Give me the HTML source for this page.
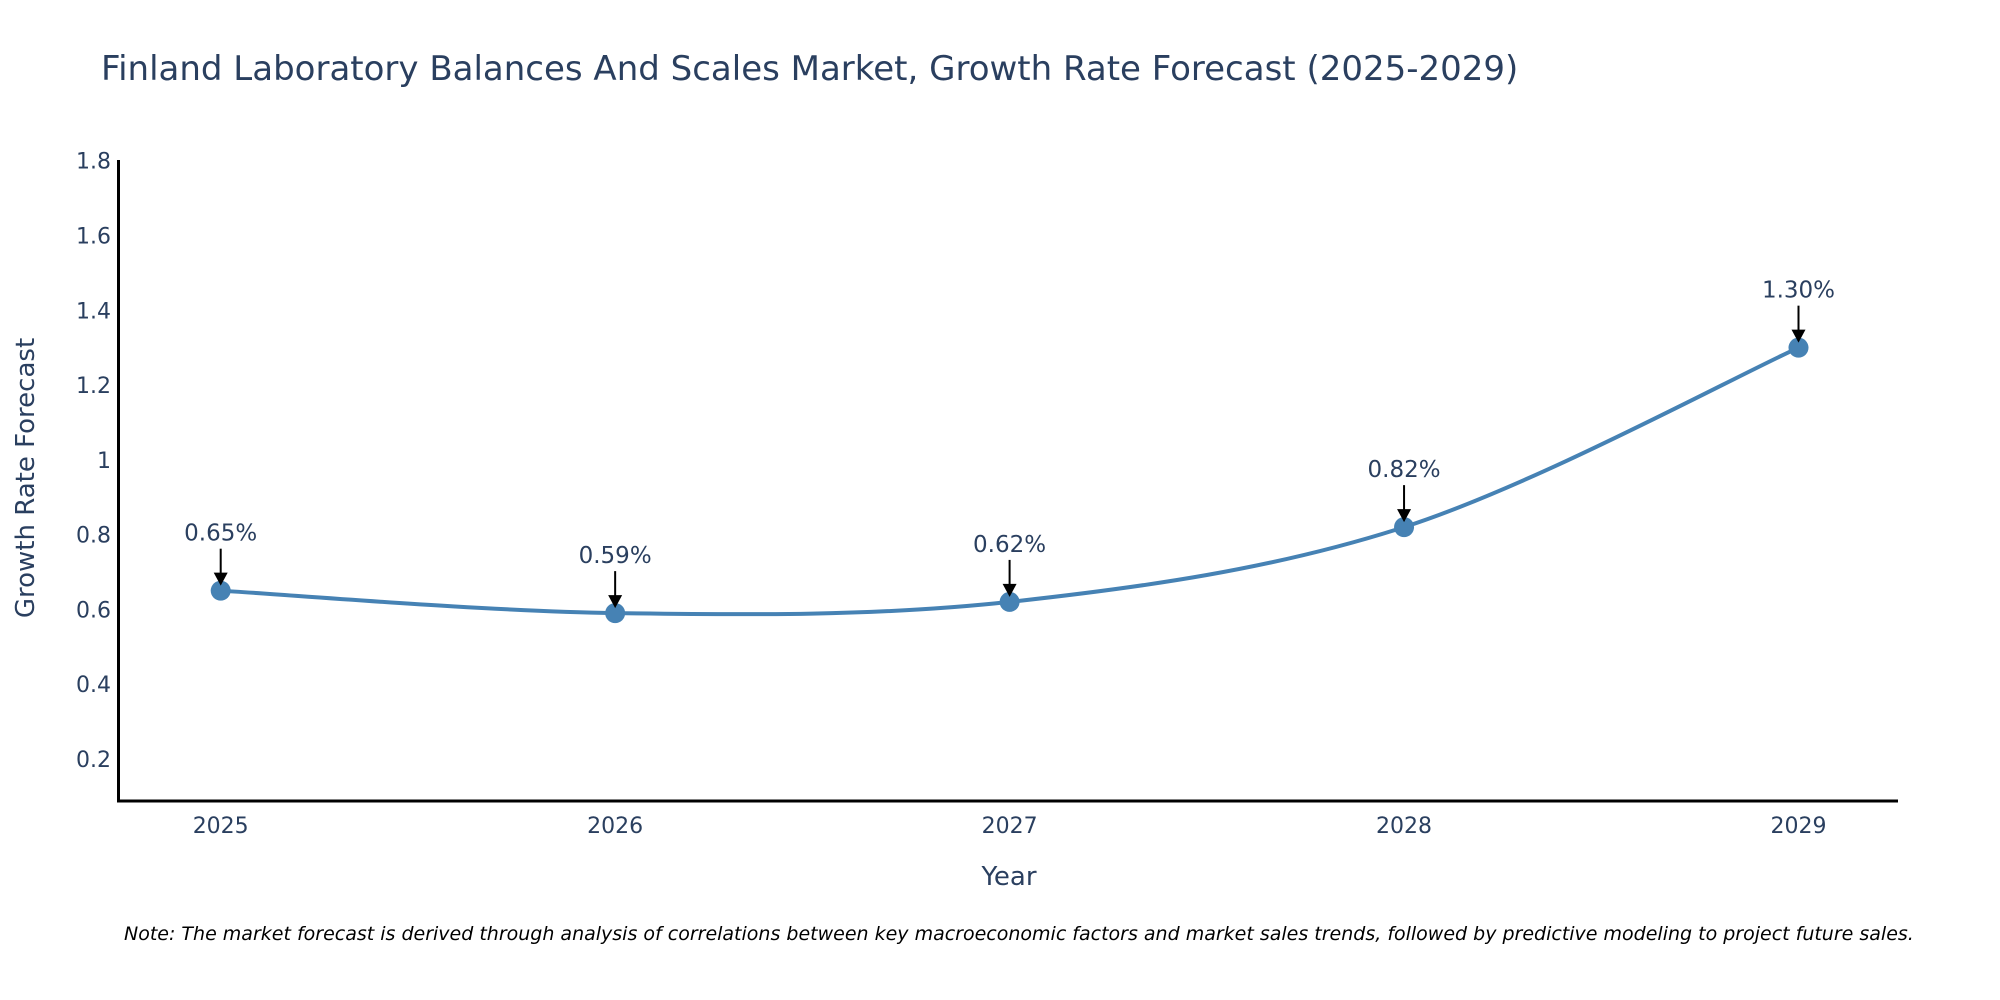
<!DOCTYPE html>
<html><head><meta charset="utf-8"><style>
body{margin:0;background:#fff;}
svg{display:block;font-family:"DejaVu Sans","Liberation Sans",sans-serif;}
</style></head><body>
<svg id="chart" width="2000" height="1000" viewBox="0 0 2000 1000">
<text x="101" y="80" font-size="34" fill="#2a3f5f">Finland Laboratory Balances And Scales Market, Growth Rate Forecast (2025-2029)</text>
<g id="yticks"></g>
<g id="xticks"></g>
<line x1="118.5" y1="160" x2="118.5" y2="802" stroke="#000" stroke-width="3"/>
<line x1="117" y1="801" x2="1898" y2="801" stroke="#000" stroke-width="3"/>
<g id="series"></g>
<g id="annots"></g>
<text x="1009" y="885" font-size="26" fill="#2a3f5f" text-anchor="middle">Year</text>
<text transform="translate(34,478) rotate(-90)" font-size="26" fill="#2a3f5f" text-anchor="middle">Growth Rate Forecast</text>
<text x="124" y="940" font-size="19" font-style="italic" fill="#000">Note: The market forecast is derived through analysis of correlations between key macroeconomic factors and market sales trends, followed by predictive modeling to project future sales.</text>
</svg>
<script>
const categories = ["2025","2026","2027","2028","2029"];
const values = [0.65, 0.59, 0.62, 0.82, 1.30];
const valueLabels = ["0.65%","0.59%","0.62%","0.82%","1.30%"];
const yTicks = [0.2,0.4,0.6,0.8,1,1.2,1.4,1.6,1.8];
const yTickLabels = ["0.2","0.4","0.6","0.8","1","1.2","1.4","1.6","1.8"];
const NS="http://www.w3.org/2000/svg";
const X0=220.7, X1=1798.5, Y_TOP=160.7, YMAX=1.8, PXU=373.9;
function xs(i){return X0+i*(X1-X0)/(categories.length-1);}
function ys(v){return Y_TOP+(YMAX-v)*PXU;}
function mk(tag,attrs,parent){const e=document.createElementNS(NS,tag);for(const k in attrs)e.setAttribute(k,attrs[k]);parent.appendChild(e);return e;}
const yt=document.getElementById('yticks');
yTicks.forEach((v,i)=>{const t=mk('text',{x:111,y:ys(v)+8,'font-size':22,fill:'#2a3f5f','text-anchor':'end'},yt);


t.textContent=yTickLabels[i];});
const xt=document.getElementById('xticks');
categories.forEach((c,i)=>{const t=mk('text',{x:xs(i),y:833,'font-size':22,fill:'#2a3f5f','text-anchor':'middle'},xt);


t.textContent=c;});
const pts=values.map((v,i)=>[xs(i),ys(v)]);
let d=`M${pts[0][0]},${pts[0][1]}`;const s=0.5/3*2;
for(let i=0;i<pts.length-1;i++){const p0=pts[Math.max(0,i-1)],p1=pts[i],p2=pts[i+1],p3=pts[Math.min(pts.length-1,i+2)];
const c1=[p1[0]+(p2[0]-p0[0])*s/2,p1[1]+(p2[1]-p0[1])*s/2],c2=[p2[0]-(p3[0]-p1[0])*s/2,p2[1]-(p3[1]-p1[1])*s/2];
d+=` C${c1[0]},${c1[1]} ${c2[0]},${c2[1]} ${p2[0]},${p2[1]}`;}
const sg=document.getElementById('series');
const line=mk('path',{d:d,fill:'none',stroke:'#4682b4','stroke-width':4},sg);


pts.forEach((p,i)=>{const c=mk('circle',{cx:p[0],cy:p[1],r:10,fill:'#4682b4'},sg);

});
const ag=document.getElementById('annots');
pts.forEach((p,i)=>{
const l=mk('line',{x1:p[0],y1:p[1]-42,x2:p[0],y2:p[1]-16,stroke:'#000','stroke-width':2},ag);


const h=mk('polygon',{points:`${p[0]-7},${p[1]-18} ${p[0]+7},${p[1]-18} ${p[0]},${p[1]-5}`,fill:'#000'},ag);


const t=mk('text',{x:p[0],y:p[1]-50,'font-size':23,fill:'#2a3f5f','text-anchor':'middle'},ag);


t.textContent=valueLabels[i];});
</script>
</body></html>
